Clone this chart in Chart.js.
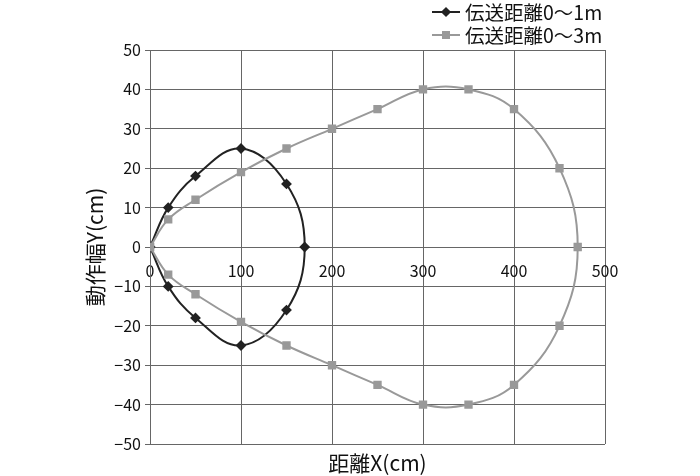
<!DOCTYPE html>
<html>
<head>
<meta charset="utf-8">
<script src="https://cdn.jsdelivr.net/npm/chart.js@4"></script>
<style>
    body { margin: 0; background: #fff; font-family: "Noto Sans CJK JP", sans-serif; }
    .wrap { position: relative; width: 700px; height: 476px; }
    .legend { position: absolute; left: 432px; top: 0px; font-size: 19.5px; color: #111; }
    .legend-item { display: flex; align-items: center; height: 23px; }
    .legend-sample { position: relative; width: 28px; height: 12px; margin-right: 5px; }
    .legend-sample .ln { position: absolute; left: 0; right: 0; top: 5px; height: 2px; }
    .legend-sample .mk { position: absolute; left: 10px; top: 2px; width: 8px; height: 8px; }
</style>
</head>
<body>
<div class="wrap">
    <canvas id="chart"></canvas>
    <div class="legend" id="legend"></div>
</div>
<script>
// 系列名
const seriesNames = ['伝送距離0～1m', '伝送距離0～3m'];

// 伝送距離0～1m (cm)
const range1X = [0, 20, 50, 100, 150, 170, 150, 100, 50, 20, 0];
const range1Y = [0, 10, 18, 25, 16, 0, -16, -25, -18, -10, 0];

// 伝送距離0～3m (cm)
const range3X = [0, 20, 50, 100, 150, 200, 250, 300, 350, 400, 450, 470,
    450, 400, 350, 300, 250, 200, 150, 100, 50, 20, 0];
const range3Y = [0, 7, 12, 19, 25, 30, 35, 40, 40, 35, 20, 0,
    -20, -35, -40, -40, -35, -30, -25, -19, -12, -7, 0];

const colors = ['#222222', '#999999'];

const toPoints = (xs, ys) => xs.map((x, i) => ({ x, y: ys[i] }));
const minus = v => (v < 0 ? '−' + Math.abs(v) : String(v));

// 凡例（線＋マーカー）
const legendEl = document.getElementById('legend');
seriesNames.forEach((name, i) => {
    const item = document.createElement('div');
    item.className = 'legend-item';
    const rot = i === 0 ? 'transform: rotate(45deg) scale(0.9);' : '';
    item.innerHTML = `
      <span class="legend-sample">
        <span class="ln" style="background:${colors[i]}"></span>
        <span class="mk" style="background:${colors[i]};${rot}"></span>
      </span>
      <span>${name}</span>`;
    legendEl.appendChild(item);
});

const gridColor = '#666666';
const tickFont = { family: '"Noto Sans CJK JP", sans-serif', size: 16 };
const titleFont = { family: '"Noto Sans CJK JP", sans-serif', size: 21 };

new Chart(document.getElementById('chart'), {
    type: 'scatter',
    data: {
        datasets: [
            {
                label: seriesNames[0],
                data: toPoints(range1X, range1Y),
                showLine: true,
                borderColor: colors[0],
                backgroundColor: colors[0],
                borderWidth: 2,
                tension: 0.4,
                pointStyle: 'rectRot',
                pointRadius: 4,
                order: 1,
            },
            {
                label: seriesNames[1],
                data: toPoints(range3X, range3Y),
                showLine: true,
                borderColor: colors[1],
                backgroundColor: colors[1],
                borderWidth: 2,
                tension: 0.4,
                pointStyle: 'rect',
                pointRadius: 4.5,
                order: 0,
            }
        ]
    },
    options: {
        responsive: true,
        maintainAspectRatio: false,
        animation: false,
        layout: { padding: { left: 78, right: 95, top: 50, bottom: 0 } },
        plugins: {
            legend: { display: false },
            tooltip: { enabled: false },
        },
        scales: {
            x: {
                type: 'linear',
                position: { y: 0 },
                min: 0,
                max: 500,
                grid: { color: gridColor, drawTicks: false },
                border: { color: gridColor },
                ticks: { stepSize: 100, padding: 14, color: '#111', font: tickFont },
            },
            x2: {
                type: 'linear',
                position: 'bottom',
                min: 0,
                max: 500,
                grid: { display: false },
                border: { display: false },
                ticks: { display: false },
                title: {
                    display: true,
                    text: '距離X(cm)',
                    color: '#111',
                    font: titleFont,
                    padding: { top: 0, bottom: 0 },
                },
                afterFit: s => { s.height = 32; },
            },
            y: {
                type: 'linear',
                position: 'left',
                min: -50,
                max: 50,
                grid: { color: gridColor, tickLength: 5 },
                border: { color: gridColor },
                ticks: {
                    stepSize: 10,
                    padding: 4,
                    color: '#111',
                    font: tickFont,
                    callback: v => minus(v),
                },
                title: {
                    display: true,
                    text: '動作幅Y(cm)',
                    color: '#111',
                    font: titleFont,
                },
                afterFit: s => { s.width = 72; },
            }
        }
    }
});
</script>
</body>
</html>
